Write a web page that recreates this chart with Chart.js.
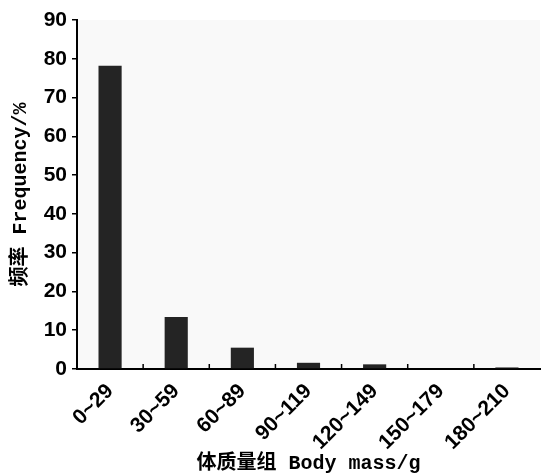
<!DOCTYPE html>
<html>
<head>
<meta charset="utf-8">
<script src="https://cdn.jsdelivr.net/npm/chart.js@4"></script>
<style>
  html, body { margin: 0; padding: 0; background: #fff; }
  #wrap { width: 543px; height: 476px; }
</style>
</head>
<body>
<div id="wrap"><canvas id="myChart" width="543" height="476"></canvas></div>
<script>
// body mass groups (g)
var groups = ['0~29', '30~59', '60~89', '90~119', '120~149', '150~179', '180~210'];
// frequency (%)
var freq = [78.2, 13.4, 5.5, 1.6, 1.2, 0, 0.4];
var yTicks = [0, 10, 20, 30, 40, 50, 60, 70, 80, 90];

var tickFont = { family: "'Liberation Sans', Arial, sans-serif", size: 21, weight: 'bold' };
var titleFont = { family: "'Liberation Mono', 'Noto Sans CJK SC', monospace", size: 20, weight: 'bold' };

// light grey plot background + inner tick marks on the x axis
var areaPlugin = {
    id: 'area',
    beforeDraw: function (chart) {
        var a = chart.chartArea, ctx = chart.ctx;
        ctx.save();
        ctx.fillStyle = '#f9f9f9';
        ctx.fillRect(a.left, a.top, a.right - a.left, a.bottom - a.top);
        ctx.restore();
    },
    afterDraw: function (chart) {
        var x = chart.scales.x, a = chart.chartArea, ctx = chart.ctx;
        var half = (x.getPixelForValue(1) - x.getPixelForValue(0)) / 2;
        ctx.save();
        ctx.strokeStyle = '#000';
        ctx.lineWidth = 1.5;
        for (var i = 1; i < groups.length; i++) {
            var px = x.getPixelForValue(i) - half;
            ctx.beginPath();
            ctx.moveTo(px, a.bottom);
            ctx.lineTo(px, a.bottom - 5);
            ctx.stroke();
        }
        ctx.restore();
    }
};

var ctx = document.getElementById('myChart').getContext('2d');
var chart = new Chart(ctx, {
    type: 'bar',
    data: {
        labels: groups,
        datasets: [{
            data: freq,
            backgroundColor: '#242424',
            borderWidth: 0,
            categoryPercentage: 1,
            barPercentage: 0.35
        }]
    },
    options: {
        responsive: false,
        animation: false,
        layout: { padding: { top: 20, right: 3, left: 0, bottom: 0 } },
        plugins: { legend: { display: false }, tooltip: { enabled: false } },
        scales: {
            x: {
                offset: true,
                afterFit: function (s) { s.height = 107; },
                grid: { display: false },
                border: { display: true, color: '#000', width: 2 },
                ticks: {
                    color: '#000',
                    font: tickFont,
                    minRotation: 45,
                    maxRotation: 45,
                    padding: 2
                },
                title: {
                    display: true,
                    text: '体质量组 Body mass/g',
                    color: '#000',
                    font: titleFont,
                    padding: { top: 4, bottom: 0 }
                }
            },
            y: {
                min: 0,
                max: 90,
                afterFit: function (s) { s.width = 77; },
                afterBuildTicks: function (s) {
                    s.ticks = yTicks.map(function (v) { return { value: v }; });
                },
                grid: {
                    drawOnChartArea: false,
                    drawTicks: true,
                    tickLength: 5,
                    color: '#000',
                    lineWidth: 1.5
                },
                border: { display: true, color: '#000', width: 2 },
                ticks: { color: '#000', font: tickFont, padding: 5 },
                title: {
                    display: true,
                    text: '频率 Frequency/%',
                    color: '#000',
                    font: titleFont,
                    padding: { top: 9, bottom: 0 }
                }
            }
        }
    },
    plugins: [areaPlugin]
});
</script>
</body>
</html>
